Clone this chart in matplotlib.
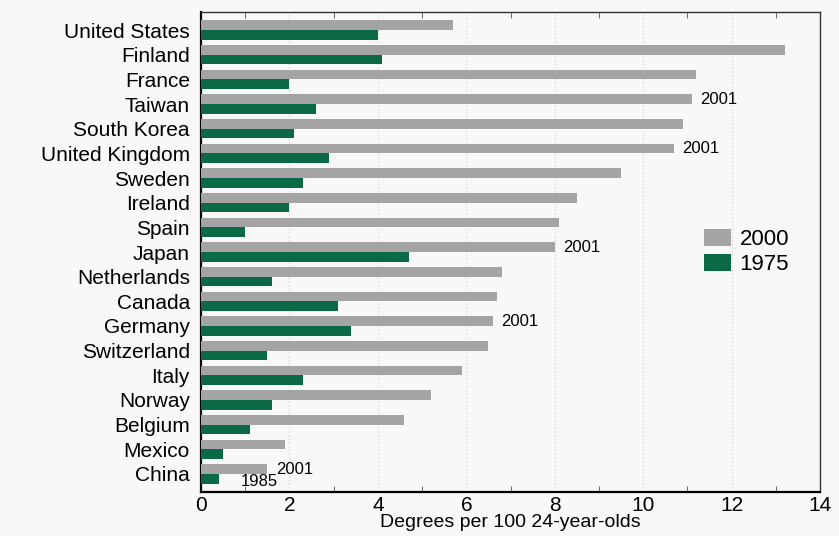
import numpy as np
import matplotlib
matplotlib.use("Agg")
import matplotlib.pyplot as plt
from matplotlib.ticker import MultipleLocator

# data
countries = ["United States", "Finland", "France", "Taiwan", "South Korea",
             "United Kingdom", "Sweden", "Ireland", "Spain", "Japan",
             "Netherlands", "Canada", "Germany", "Switzerland", "Italy",
             "Norway", "Belgium", "Mexico", "China"]
vals_2000 = [5.7, 13.2, 11.2, 11.1, 10.9, 10.7, 9.5, 8.5, 8.1, 8.0,
             6.8, 6.7, 6.6, 6.5, 5.9, 5.2, 4.6, 1.9, 1.5]
vals_1975 = [4.0, 4.1, 2.0, 2.6, 2.1, 2.9, 2.3, 2.0, 1.0, 4.7,
             1.6, 3.1, 3.4, 1.5, 2.3, 1.6, 1.1, 0.5, 0.4]
notes_2000 = ["", "", "", "2001", "", "2001", "", "", "", "2001",
              "", "", "2001", "", "", "", "", "", "2001"]
notes_1975 = ["", "", "", "", "", "", "", "", "", "",
              "", "", "", "", "", "", "", "", "1985"]

plt.rcParams['font.family'] = ['Liberation Sans', 'DejaVu Sans']

fig = plt.figure(figsize=(8.39, 5.36), dpi=100, facecolor="#f8f8f8")
ax = fig.add_axes([0.2396, 0.0821, 0.7378, 0.8955])
ax.set_facecolor("#f8f8f8")

y = np.arange(len(countries))
h = 0.39
gray = "#a4a4a4"
green = "#0b6a45"
ax.barh(y - h / 2, vals_2000, height=h, color=gray, label="2000", zorder=3)
ax.barh(y + h / 2, vals_1975, height=h, color=green, label="1975", zorder=3)

# year notes next to the bars
for i in range(len(countries)):
    if notes_2000[i]:
        ax.annotate(notes_2000[i], (vals_2000[i], y[i] - h / 2), xytext=(6, 0),
                    textcoords="offset points", va="center", ha="left", fontsize=12)
    if notes_1975[i]:
        ax.annotate(notes_1975[i], (vals_1975[i], y[i] + h / 2), xytext=(16, -2),
                    textcoords="offset points", va="center", ha="left", fontsize=12)

ax.set_xlim(0, 14)
ax.set_ylim(len(countries) - 1 + 0.73, -0.73)
ax.set_yticks(y)
ax.set_yticklabels(countries, fontsize=15)
ax.tick_params(axis="y", length=0, pad=8)

ax.xaxis.set_major_locator(MultipleLocator(2))
ax.xaxis.set_minor_locator(MultipleLocator(1))
ax.tick_params(axis="x", which="major", length=0, labelsize=15, pad=3)
ax.tick_params(axis="x", which="minor", direction="in", length=4, top=True,
               bottom=True, color="#555555")
ax.grid(axis="x", which="major", linestyle=(0, (1, 2)), color="#d2d2d2",
        linewidth=0.9, zorder=0)

for s in ["left", "bottom"]:
    ax.spines[s].set_linewidth(1.6)
for s in ["top", "right"]:
    ax.spines[s].set_linewidth(1.0)
    ax.spines[s].set_color("#333333")

ax.set_xlabel("Degrees per 100 24-year-olds", fontsize=14, labelpad=-1)

ax.legend(loc="center left", bbox_to_anchor=(0.78, 0.5), frameon=False,
          fontsize=16, handlelength=1.2, handleheight=0.8, handletextpad=0.4,
          labelspacing=0.2)

fig.savefig("out.png", dpi=100, facecolor=fig.get_facecolor())
